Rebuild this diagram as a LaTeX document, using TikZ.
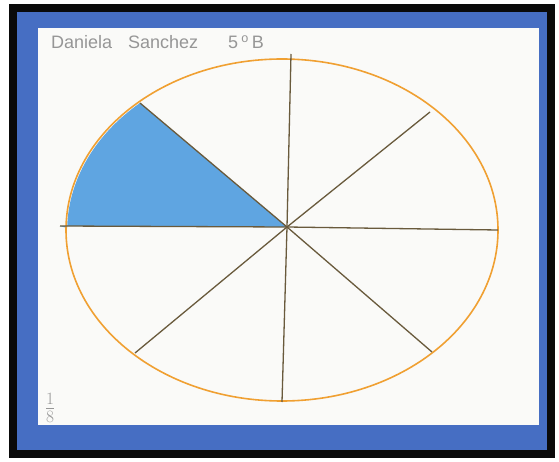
\documentclass[tikz,border=0pt]{standalone}
\usepackage{fontspec}
\setmainfont{Liberation Sans}
\usepackage{tikz}
\usetikzlibrary{positioning, calc}
\usepackage{xcolor}
\definecolor{frameblack}{RGB}{10,10,10}
\definecolor{crayonblue}{RGB}{70,110,195}
\definecolor{paperwhite}{RGB}{250,250,248}
\definecolor{sectorblue}{RGB}{95,165,225}
\definecolor{rimorange}{RGB}{240,160,50}
\definecolor{spokebrown}{RGB}{105,90,60}
\definecolor{pencilgrey}{RGB}{150,150,150}
\tikzset{
  rim/.style={draw=rimorange, line width=1.6pt},
  spoke/.style={draw=spokebrown, line width=1.3pt},
  pencil/.style={text=pencilgrey, inner sep=0pt, font=\fontsize{18}{19}\selectfont}
}

\begin{document}
\begin{tikzpicture}[x=1pt, y=-1pt]
  \useasboundingbox (0,0) rectangle (559,462);
  % frame and paper
  \fill[frameblack] (9,4) rectangle (555,458);
  \fill[crayonblue] (17,12) rectangle (547,450);
  \fill[paperwhite] (38,28) rectangle (539,425);
  % centre and rim points
  \coordinate (c) at (287,227);
  \coordinate (top) at (291,54);
  \coordinate (bot) at (282,402);
  \coordinate (lft) at (60,226);
  \coordinate (rgt) at (498,230);
  \coordinate (ul) at (140,103);
  \coordinate (ur) at (430,112);
  \coordinate (ll) at (135,353);
  \coordinate (lr) at (432,352);
  % shaded eighth
  \fill[sectorblue] (c) -- (ul) arc[start angle=-131.5, end angle=-179, x radius=216, y radius=171] -- (lft) -- cycle;
  \draw[rim] (282,230) ellipse[x radius=216, y radius=171];
  \foreach \p in {top,bot,lft,rgt,ul,ur,ll,lr}
    \draw[spoke] (c) -- (\p);
  % labels
  \node[pencil, anchor=west] (name) at (51,42) {Daniela\hspace{16pt}Sanchez\hspace{30pt}5\hspace{3pt}\textsuperscript{o}\hspace{3pt}B};
  \node[pencil, font=\fontsize{24}{24}\selectfont] (frac) at (50,408) {$\frac{1}{8}$};
\end{tikzpicture}
\end{document}
